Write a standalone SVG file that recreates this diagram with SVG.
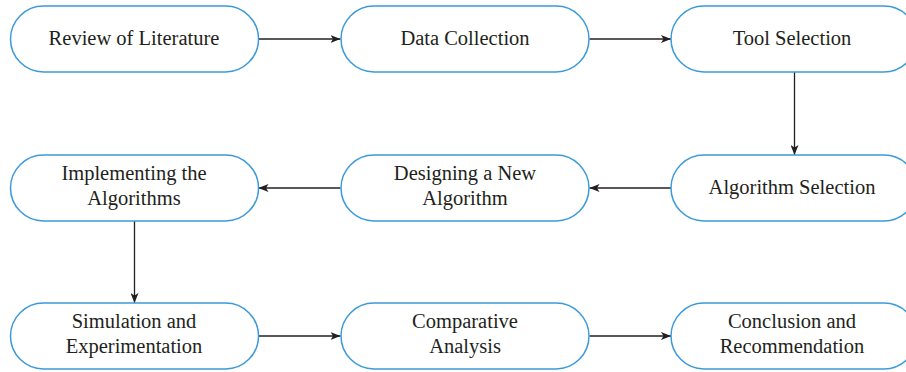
<svg xmlns="http://www.w3.org/2000/svg" width="906" height="372" viewBox="0 0 906 372">
  <defs>
    <style>
      .box { fill: #ffffff; stroke: #3b9ad9; stroke-width: 1.5; }
      .lbl { font-family: "Liberation Serif", "Times New Roman", serif; font-size: 20.5px; fill: #231f20; text-anchor: middle; }
      .edge { fill: none; stroke: #231f20; stroke-width: 1.3; }
    </style>
    <marker id="arrow" viewBox="0 0 10 8" refX="10" refY="4" markerWidth="10" markerHeight="8" markerUnits="userSpaceOnUse" orient="auto">
      <path d="M0,0 L10,4 L0,8 L2.5,4 z" fill="#231f20"/>
    </marker>
  </defs>

  <rect width="906" height="372" fill="#ffffff"/>

  <!-- connectors -->
  <g id="connectors">
    <line class="edge" x1="258.5" y1="39" x2="340.5" y2="39" marker-end="url(#arrow)"/>
    <line class="edge" x1="589.5" y1="39" x2="671" y2="39" marker-end="url(#arrow)"/>
    <line class="edge" x1="794.5" y1="72" x2="794.5" y2="155" marker-end="url(#arrow)"/>
    <line class="edge" x1="671" y1="188" x2="589.5" y2="188" marker-end="url(#arrow)"/>
    <line class="edge" x1="340.5" y1="188" x2="258.5" y2="188" marker-end="url(#arrow)"/>
    <line class="edge" x1="134.5" y1="221" x2="134.5" y2="303" marker-end="url(#arrow)"/>
    <line class="edge" x1="258.5" y1="336" x2="340.5" y2="336" marker-end="url(#arrow)"/>
    <line class="edge" x1="589.5" y1="336" x2="671" y2="336" marker-end="url(#arrow)"/>
  </g>

  <!-- row 1 -->
  <g id="review">
    <rect class="box" x="10.5" y="6" width="248" height="66" rx="33"/>
    <text class="lbl" x="134" y="45">Review of Literature</text>
  </g>
  <g id="data-collection">
    <rect class="box" x="341" y="6" width="248" height="66" rx="33"/>
    <text class="lbl" x="465" y="45">Data Collection</text>
  </g>
  <g id="tool-selection">
    <rect class="box" x="671" y="6" width="246" height="66" rx="33"/>
    <text class="lbl" x="792" y="45">Tool Selection</text>
  </g>

  <!-- row 2 -->
  <g id="algorithm-selection">
    <rect class="box" x="671" y="155" width="246" height="66" rx="33"/>
    <text class="lbl" x="792" y="194">Algorithm Selection</text>
  </g>
  <g id="designing">
    <rect class="box" x="341" y="155" width="248" height="66" rx="33"/>
    <text class="lbl" x="465" y="180">Designing a New</text>
    <text class="lbl" x="465" y="205">Algorithm</text>
  </g>
  <g id="implementing">
    <rect class="box" x="10.5" y="155" width="248" height="66" rx="33"/>
    <text class="lbl" x="134" y="180">Implementing the</text>
    <text class="lbl" x="134" y="205">Algorithms</text>
  </g>

  <!-- row 3 -->
  <g id="simulation">
    <rect class="box" x="10.5" y="303" width="248" height="66" rx="33"/>
    <text class="lbl" x="134" y="328">Simulation and</text>
    <text class="lbl" x="134" y="353">Experimentation</text>
  </g>
  <g id="comparative">
    <rect class="box" x="341" y="303" width="248" height="66" rx="33"/>
    <text class="lbl" x="465" y="328">Comparative</text>
    <text class="lbl" x="465" y="353">Analysis</text>
  </g>
  <g id="conclusion">
    <rect class="box" x="671" y="303" width="246" height="66" rx="33"/>
    <text class="lbl" x="792" y="328">Conclusion and</text>
    <text class="lbl" x="792" y="353">Recommendation</text>
  </g>
</svg>
